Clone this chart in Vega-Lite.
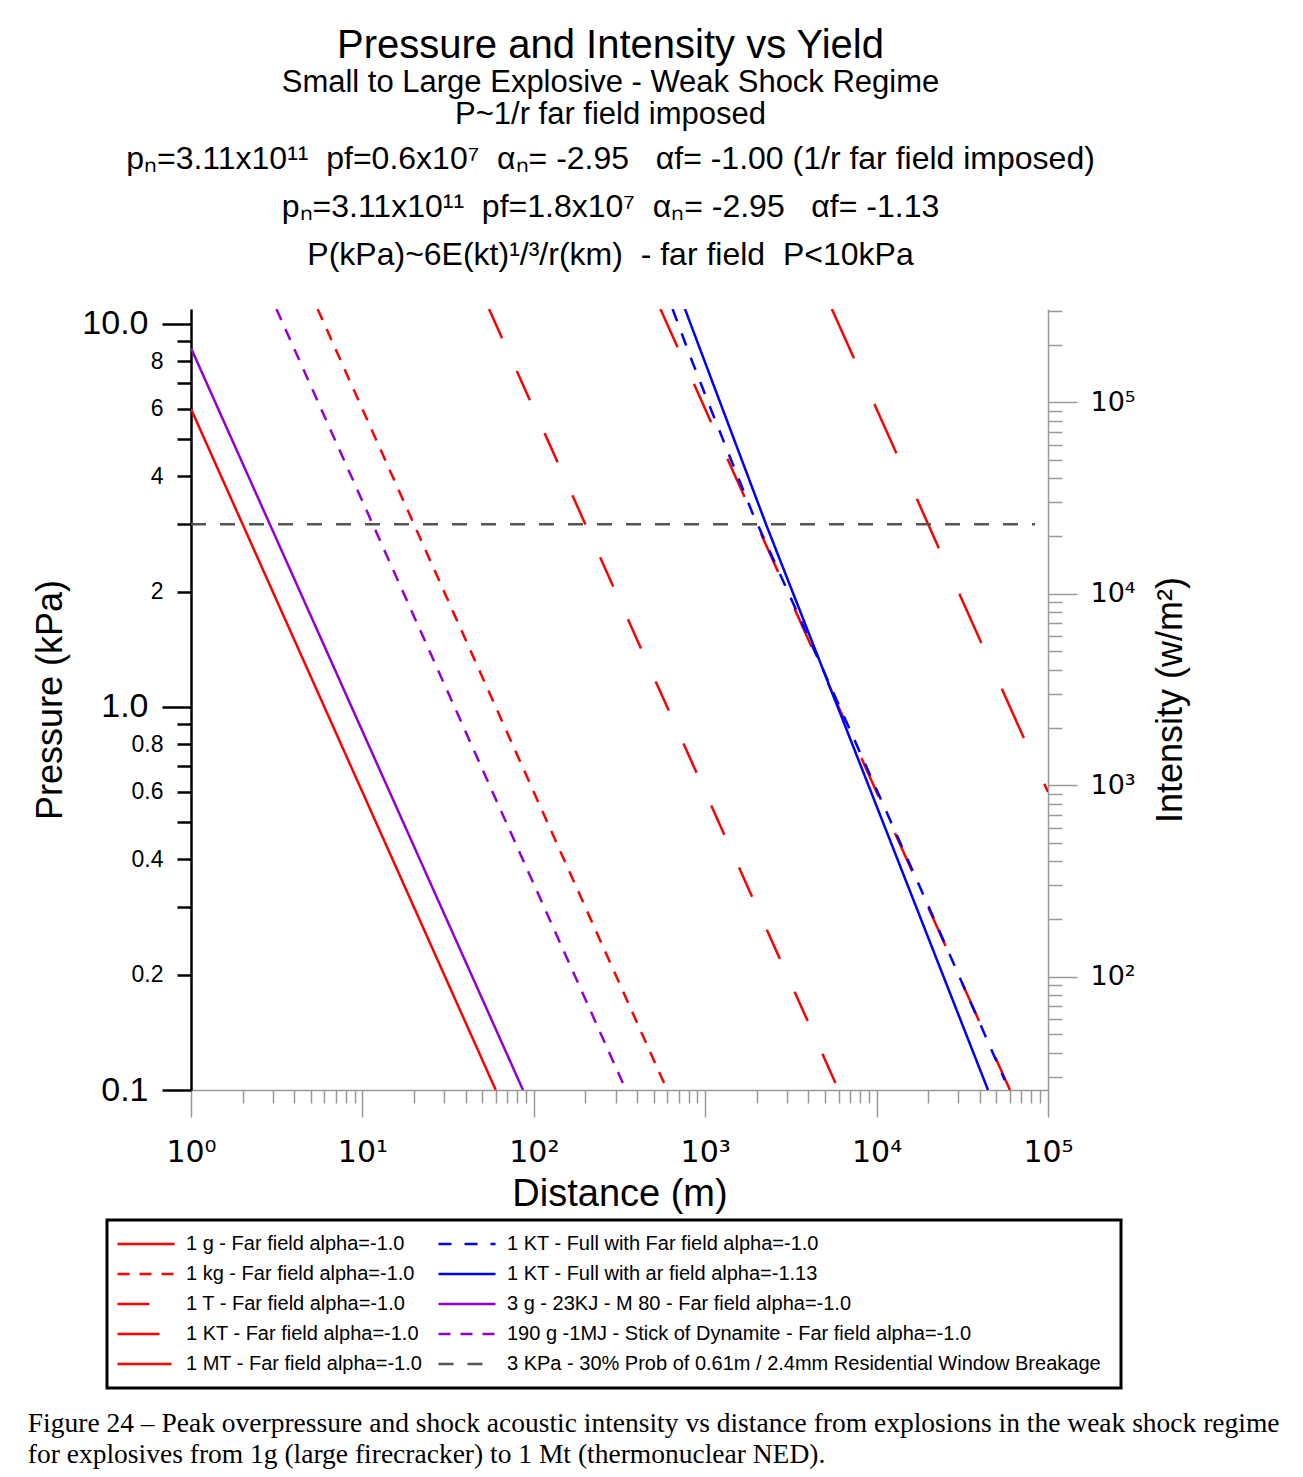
{
  "$schema": "https://vega.github.io/schema/vega-lite/v6.json",
  "background": "white",
  "padding": {"left": 27, "top": 25, "right": 10, "bottom": 5},
  "config": {
    "font": "Liberation Sans",
    "view": {"stroke": null},
    "concat": {"spacing": 0},
    "axis": {"labelFont": "Liberation Sans", "titleFont": "Liberation Sans", "titleFontWeight": "normal", "labelColor": "black", "titleColor": "black", "grid": false, "labelOverlap": false, "labelFlush": false}
  },
  "title": {
    "text": ["Figure 24 – Peak overpressure and shock acoustic intensity vs distance from explosions in the weak shock regime", "for explosives from 1g (large firecracker)  to 1 Mt (thermonuclear NED)."],
    "orient": "bottom",
    "anchor": "start",
    "frame": "bounds",
    "font": "Liberation Serif",
    "fontSize": 27.5,
    "fontWeight": "normal",
    "lineHeight": 31,
    "color": "black",
    "offset": 20,
    "dx": -5
  },
  "vconcat": [
    {
      "title": {
        "text": "Pressure and Intensity vs Yield",
        "subtitle": ["Small to Large Explosive - Weak Shock Regime", "P~1/r far field imposed"],
        "anchor": "middle",
        "frame": "bounds",
        "font": "Liberation Sans",
        "fontSize": 40,
        "fontWeight": "normal",
        "color": "black",
        "subtitleFont": "Liberation Sans",
        "subtitleFontSize": 31,
        "subtitleColor": "black",
        "subtitleLineHeight": 32,
        "subtitlePadding": 2,
        "offset": 13
      },
      "vconcat": [
        {
          "title": {
            "text": ["pₙ=3.11x10¹¹ \u00a0pf=0.6x10⁷ \u00a0αₙ= -2.95 \u00a0 αf= -1.00 (1/r far field imposed)", "pₙ=3.11x10¹¹ \u00a0pf=1.8x10⁷ \u00a0αₙ= -2.95 \u00a0 αf= -1.13", "P(kPa)~6E(kt)¹/³/r(km) \u00a0- far field \u00a0P<10kPa"],
            "anchor": "middle",
            "frame": "bounds",
            "font": "Liberation Sans",
            "fontSize": 32,
            "fontWeight": "normal",
            "lineHeight": 48,
            "color": "black",
            "offset": 25
          },
          "width": 857,
          "height": 781,
          "data": {"name": "lines"},
          "layer": [
            {
              "mark": {"type": "line", "clip": true, "strokeWidth": 2.5},
              "encoding": {
                "x": {
                  "field": "r", "type": "quantitative",
                  "scale": {"type": "log", "domain": [1, 100000], "nice": false},
                  "axis": {
                    "title": "Distance (m)",
                    "titleFontSize": 38,
                    "titlePadding": 8,
                    "values": [1,2,3,4,5,6,7,8,9,10,20,30,40,50,60,70,80,90,100,200,300,400,500,600,700,800,900,1000,2000,3000,4000,5000,6000,7000,8000,9000,10000,20000,30000,40000,50000,60000,70000,80000,90000,100000],
                    "labelExpr": "datum.value == 1 ? '10⁰' : datum.value == 10 ? '10¹' : datum.value == 100 ? '10²' : datum.value == 1000 ? '10³' : datum.value == 10000 ? '10⁴' : datum.value == 100000 ? '10⁵' : ''",
                    "labelFont": "DejaVu Sans",
                    "labelFontSize": 30,
                    "labelPadding": 20,
                    "domainColor": "#999999",
                    "domainWidth": 1.5,
                    "tickColor": "#999999",
                    "tickWidth": 1.5,
                    "tickSize": {"condition": {"test": "datum.value == 1 || datum.value == 10 || datum.value == 100 || datum.value == 1000 || datum.value == 10000 || datum.value == 100000", "value": 27}, "value": 13}
                  }
                },
                "y": {
                  "field": "P", "type": "quantitative",
                  "scale": {"type": "log", "domain": [0.1, 10.94], "nice": false},
                  "axis": {
                    "title": "Pressure (kPa)",
                    "orient": "left",
                    "titleFontSize": 36,
                    "titlePadding": 12,
                    "values": [0.1,0.2,0.3,0.4,0.5,0.6,0.7,0.8,0.9,1,2,3,4,5,6,7,8,9,10],
                    "format": "~g",
                    "labelExpr": "datum.value == 10 ? '10.0' : datum.value == 1 ? '1.0' : datum.value == 0.1 ? '0.1' : (datum.value == 8 || datum.value == 6 || datum.value == 4 || datum.value == 2 || datum.value == 0.8 || datum.value == 0.6 || datum.value == 0.4 || datum.value == 0.2) ? datum.label : ''",
                    "labelFontSize": {"condition": {"test": "datum.value == 0.1 || datum.value == 1 || datum.value == 10", "value": 34}, "value": 23},
                    "labelPadding": 14,
                    "domainColor": "black",
                    "domainWidth": 2.5,
                    "tickColor": "black",
                    "tickWidth": 2.5,
                    "tickSize": {"condition": {"test": "datum.value == 0.1 || datum.value == 1 || datum.value == 10", "value": 29}, "value": 14}
                  }
                },
                "color": {
                  "field": "series", "type": "nominal",
                  "scale": {
                    "domain": ["1 g - Far field alpha=-1.0", "1 kg - Far field alpha=-1.0", "1 T - Far field alpha=-1.0", "1 KT - Far field alpha=-1.0", "1 MT - Far field alpha=-1.0", "1 KT - Full with Far field alpha=-1.0", "1 KT - Full with ar field alpha=-1.13", "3 g - 23KJ - M 80 -  Far field alpha=-1.0", "190 g -1MJ - Stick of Dynamite - Far field alpha=-1.0", "3  KPa - 30% Prob of  0.61m / 2.4mm Residential Window Breakage"],
                    "range": ["#ff0000", "#ff0000", "#ff0000", "#ff0000", "#ff0000", "#0000ff", "#0000ff", "#9400d3", "#9400d3", "#555555"]
                  },
                  "legend": {
                    "title": null,
                    "orient": "none",
                    "legendX": -84,
                    "legendY": 911,
                    "columns": 2,
                    "columnPadding": 14,
                    "rowPadding": 0,
                    "clipHeight": 30,
                    "padding": 9,
                    "strokeColor": "black",
                    "fillColor": "white",
                    "cornerRadius": 0,
                    "labelFont": "Liberation Sans",
                    "labelFontSize": 20,
                    "labelColor": "black",
                    "labelLimit": 800,
                    "labelOffset": 10,
                    "symbolType": "stroke",
                    "symbolSize": 3249,
                    "symbolStrokeWidth": 2.5,
                    "encode": {"legend": {"update": {"strokeWidth": {"value": 3}}}}
                  }
                },
                "strokeDash": {
                  "field": "series", "type": "nominal",
                  "scale": {
                    "domain": ["1 g - Far field alpha=-1.0", "1 kg - Far field alpha=-1.0", "1 T - Far field alpha=-1.0", "1 KT - Far field alpha=-1.0", "1 MT - Far field alpha=-1.0", "1 KT - Full with Far field alpha=-1.0", "1 KT - Full with ar field alpha=-1.13", "3 g - 23KJ - M 80 -  Far field alpha=-1.0", "190 g -1MJ - Stick of Dynamite - Far field alpha=-1.0", "3  KPa - 30% Prob of  0.61m / 2.4mm Residential Window Breakage"],
                    "range": [[1,0], [12,10], [32,36], [42,40], [54,50], [13,13], [1,0], [1,0], [12,10], [15,14]]
                  },
                  "legend": null
                }
              }
            },
            {
              "mark": {"type": "point", "opacity": 0},
              "encoding": {
                "x": {"datum": 1, "type": "quantitative"},
                "y": {
                  "datum": 1000, "type": "quantitative",
                  "scale": {"type": "log", "domain": [25.6, 306900], "nice": false},
                  "axis": {
                    "title": "Intensity (w/m²)",
                    "orient": "right",
                    "titleFontSize": 36,
                    "titleAngle": 270,
                    "titleBaseline": "top",
                    "titlePadding": 18,
                    "values": [30,40,50,60,70,80,90,100,200,300,400,500,600,700,800,900,1000,2000,3000,4000,5000,6000,7000,8000,9000,10000,20000,30000,40000,50000,60000,70000,80000,90000,100000,200000,300000],
                    "labelExpr": "datum.value == 100 ? '10²' : datum.value == 1000 ? '10³' : datum.value == 10000 ? '10⁴' : datum.value == 100000 ? '10⁵' : ''",
                    "labelFont": "DejaVu Sans",
                    "labelFontSize": 27,
                    "labelPadding": 13,
                    "domainColor": "#999999",
                    "domainWidth": 1.5,
                    "tickColor": "#999999",
                    "tickWidth": 1.5,
                    "tickSize": {"condition": {"test": "datum.value == 100 || datum.value == 1000 || datum.value == 10000 || datum.value == 100000", "value": 29}, "value": 14}
                  }
                }
              }
            }
          ],
          "resolve": {"scale": {"y": "independent"}}
        }
      ]
    }
  ],
  "datasets": {
    "lines": [
      {"series": "1 g - Far field alpha=-1.0", "r": 1, "P": 6.0},
      {"series": "1 g - Far field alpha=-1.0", "r": 60, "P": 0.1},
      {"series": "3 g - 23KJ - M 80 -  Far field alpha=-1.0", "r": 1, "P": 8.65},
      {"series": "3 g - 23KJ - M 80 -  Far field alpha=-1.0", "r": 86.5, "P": 0.1},
      {"series": "190 g -1MJ - Stick of Dynamite - Far field alpha=-1.0", "r": 3.15, "P": 10.94},
      {"series": "190 g -1MJ - Stick of Dynamite - Far field alpha=-1.0", "r": 345, "P": 0.1},
      {"series": "1 kg - Far field alpha=-1.0", "r": 5.48, "P": 10.94},
      {"series": "1 kg - Far field alpha=-1.0", "r": 600, "P": 0.1},
      {"series": "1 T - Far field alpha=-1.0", "r": 54.8, "P": 10.94},
      {"series": "1 T - Far field alpha=-1.0", "r": 6000, "P": 0.1},
      {"series": "1 KT - Far field alpha=-1.0", "r": 548, "P": 10.94},
      {"series": "1 KT - Far field alpha=-1.0", "r": 60000, "P": 0.1},
      {"series": "1 MT - Far field alpha=-1.0", "r": 5484, "P": 10.94},
      {"series": "1 MT - Far field alpha=-1.0", "r": 100000, "P": 0.6},
      {"series": "1 KT - Full with Far field alpha=-1.0", "r": 645, "P": 10.94},
      {"series": "1 KT - Full with Far field alpha=-1.0", "r": 838, "P": 8.0},
      {"series": "1 KT - Full with Far field alpha=-1.0", "r": 1096, "P": 5.89},
      {"series": "1 KT - Full with Far field alpha=-1.0", "r": 1432, "P": 4.36},
      {"series": "1 KT - Full with Far field alpha=-1.0", "r": 1876, "P": 3.23},
      {"series": "1 KT - Full with Far field alpha=-1.0", "r": 6100, "P": 1.0},
      {"series": "1 KT - Full with Far field alpha=-1.0", "r": 20200, "P": 0.3},
      {"series": "1 KT - Full with Far field alpha=-1.0", "r": 56000, "P": 0.106},
      {"series": "1 KT - Full with ar field alpha=-1.13", "r": 762, "P": 10.94},
      {"series": "1 KT - Full with ar field alpha=-1.13", "r": 2263, "P": 3.0},
      {"series": "1 KT - Full with ar field alpha=-1.13", "r": 5930, "P": 1.0},
      {"series": "1 KT - Full with ar field alpha=-1.13", "r": 44670, "P": 0.1},
      {"series": "3  KPa - 30% Prob of  0.61m / 2.4mm Residential Window Breakage", "r": 1, "P": 3.0},
      {"series": "3  KPa - 30% Prob of  0.61m / 2.4mm Residential Window Breakage", "r": 84000, "P": 3.0}
    ]
  }
}
